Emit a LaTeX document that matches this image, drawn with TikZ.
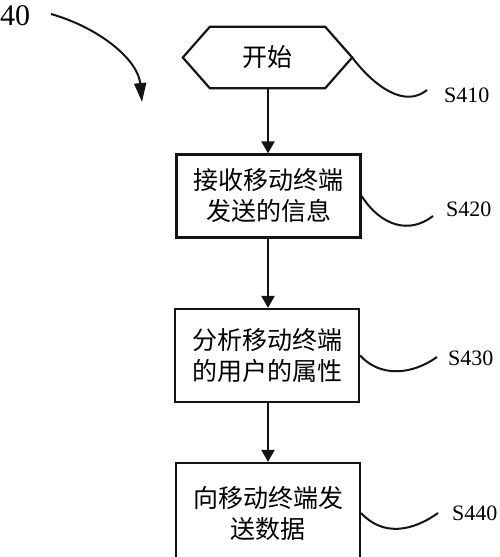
\documentclass[tikz,border=0pt]{standalone}
\usepackage{fontspec}
\setmainfont{Liberation Serif}
\newfontfamily\cjk{Noto Sans CJK SC}
\definecolor{flowblack}{RGB}{20, 20, 20}
\usetikzlibrary{
    arrows.meta,
    positioning,
    calc
}
\tikzset{
    stepbox/.style={draw=flowblack, line width=2.2pt, minimum width=184pt,
        inner sep=0pt, align=center, font=\cjk\fontsize{25}{31}\selectfont},
    steplabel/.style={anchor=base west, inner sep=0pt,
        font=\fontsize{22}{22}\selectfont},
    flowarrow/.style={draw=flowblack, line width=2.2pt,
        -{Triangle[length=12pt, width=13pt]}},
    squiggle/.style={draw=flowblack, line width=2pt}
}

\begin{document}
\begin{tikzpicture}[x=1pt, y=-1pt]
            \useasboundingbox (0,0) rectangle (500,557);

            % Figure number with curved pointer
            \node[anchor=base west, inner sep=0pt, font=\fontsize{30}{30}\selectfont]
                (fignum) at (0,25) {40};
            \coordinate (pointfrom) at (51,14);
            \coordinate (pointto) at (142,102);
            \draw[line width=2pt, draw=flowblack, -{Triangle[length=19pt, width=12pt]}]
                (pointfrom) .. controls (100,28) and (138,60) .. (pointto);

            % Start
            \node[minimum width=169pt, minimum height=61pt, inner sep=0pt,
                font=\cjk\fontsize{25}{31}\selectfont] (start) at (267.5,57.5) {开始};
            \draw[draw=flowblack, line width=2.2pt]
                (start.west) -- ([xshift=27pt]start.north west)
                -- ([xshift=-27pt]start.north east) -- (start.east)
                -- ([xshift=-27pt]start.south east)
                -- ([xshift=27pt]start.south west) -- cycle;

            % Steps
            \node[stepbox, minimum height=83pt] (receive) at (268.5,196)
                {接收移动终端\\发送的信息};
            \node[stepbox, minimum height=93pt] (analyse) at (267,355.5)
                {分析移动终端\\的用户的属性};
            \node[stepbox, minimum height=100pt] (senddata) at (268,513)
                {向移动终端发\\送数据};

            % Flow
            \draw[flowarrow] (start.south -| 268,0) -- (receive.north -| 268,0);
            \draw[flowarrow] (receive.south -| 268,0) -- (analyse.north -| 268,0);
            \draw[flowarrow] (analyse.south -| 268,0) -- (senddata.north -| 268,0);

            % Step labels
            \node[steplabel] (s410) at (444,102) {S410};
            \node[steplabel] (s420) at (446,216) {S420};
            \node[steplabel] (s430) at (448,365) {S430};
            \node[steplabel] (s440) at (452,520) {S440};
            \coordinate (e410) at (427,90);
            \coordinate (e420) at (433,216);
            \coordinate (e430) at (437,357);
            \coordinate (e440) at (438,513);
            \draw[squiggle] (start.east) .. controls +(23,30) and +(-22,18) .. (e410);
            \draw[squiggle] (receive.east) .. controls +(20,31) and +(-23,18) .. (e420);
            \draw[squiggle] (analyse.east) .. controls +(20,22) and +(-25,18) .. (e430);
            \draw[squiggle] (senddata.east) .. controls +(22,24) and +(-25,18) .. (e440);
        \end{tikzpicture}
\end{document}
